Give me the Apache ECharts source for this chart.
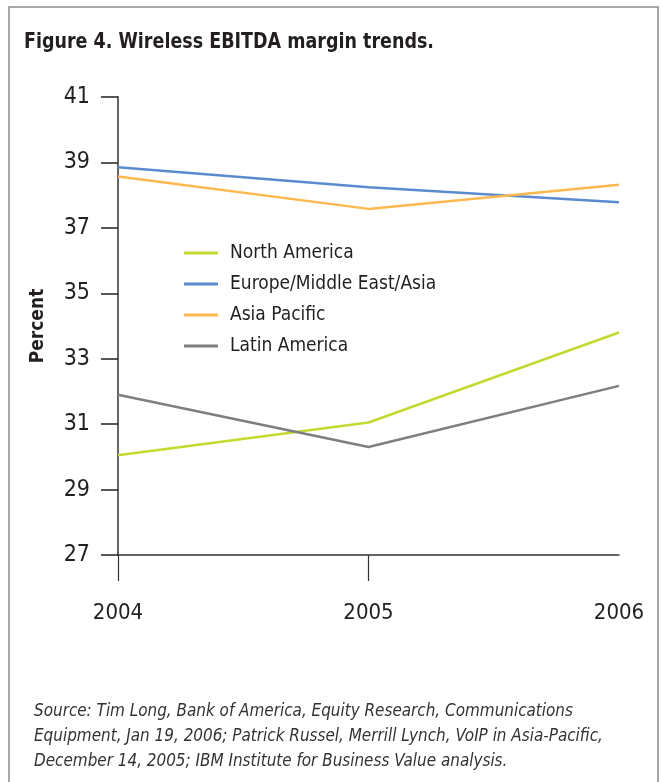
<!DOCTYPE html>
<html>
<head>
<meta charset="utf-8">
<script src="https://cdn.jsdelivr.net/npm/echarts@6/dist/echarts.min.js"></script>
<style>
html,body{margin:0;padding:0;background:#fff;}
#c{width:661px;height:782px;}
</style>
</head>
<body>
<div id="c"></div>
<script>
var years = ['2004', '2005', '2006'];
var northAmerica = [30.05, 31.05, 33.8];
var europeMEA = [38.85, 38.24, 37.78];
var asiaPacific = [38.57, 37.58, 38.32];
var latinAmerica = [31.9, 30.3, 32.17];
var seriesNames = ['North America', 'Europe/Middle East/Asia', 'Asia Pacific', 'Latin America'];
var titleText = 'Figure 4. Wireless EBITDA margin trends.';
var sourceLines = [
  'Source: Tim Long, Bank of America, Equity Research, Communications',
  'Equipment, Jan 19, 2006; Patrick Russel, Merrill Lynch, VoIP in Asia-Pacific,',
  'December 14, 2005; IBM Institute for Business Value analysis.'
];

var narrow = '"Liberation Sans Narrow", "DejaVu Sans Condensed", "Roboto Condensed", Arial, sans-serif';
var colors = ['#C4D92E', '#5B8BCF', '#FDB94F', '#7F7F7F'];
var dataSets = [northAmerica, europeMEA, asiaPacific, latinAmerica];

var chart = echarts.init(document.getElementById('c'), null, {renderer: 'canvas'});
var series = seriesNames.map(function (n, i) {
  return {
    name: n,
    type: 'line',
    data: dataSets[i],
    symbol: 'none',
    lineStyle: {color: colors[i], width: 2.5},
    itemStyle: {color: colors[i]},
    z: 3
  };
});

var graphics = [
  {type: 'rect', shape: {x: 9, y: 7, width: 649, height: 800}, style: {fill: 'none', stroke: '#8c8c8c', lineWidth: 1.5}, silent: true},
  {type: 'text', x: 24, y: 42, scaleX: 0.885, style: {text: titleText, font: 'bold 22px ' + narrow, fill: '#231f20', verticalAlign: 'middle'}}
];
sourceLines.forEach(function (t, i) {
  graphics.push({type: 'text', x: 34, y: 711 + i * 25, scaleX: 0.94, style: {text: t, font: 'italic 18px ' + narrow, fill: '#333', verticalAlign: 'middle'}});
});

chart.setOption({
  animation: false,
  backgroundColor: '#fff',
  color: colors,
  graphic: graphics,
  grid: {left: 118, right: 42, top: 97, bottom: 227, containLabel: false},
  legend: {
    orient: 'vertical',
    left: 179,
    top: 238,
    icon: 'rect',
    itemWidth: 34,
    itemHeight: 3,
    itemGap: 11,
    data: seriesNames,
    textStyle: {fontFamily: narrow, fontSize: 19, color: '#231f20', lineHeight: 20, padding: [0, 0, 0, 7]}
  },
  xAxis: {
    type: 'category',
    data: years,
    boundaryGap: false,
    axisLine: {lineStyle: {color: '#333', width: 1.5}},
    axisTick: {show: true, length: 26, interval: function (idx) { return idx < 2; }, lineStyle: {color: '#333', width: 1.2}},
    axisLabel: {margin: 47, fontFamily: narrow, fontSize: 22, color: '#231f20'},
    splitLine: {show: false}
  },
  yAxis: {
    type: 'value',
    min: 27,
    max: 41,
    interval: 2,
    name: 'Percent',
    nameLocation: 'middle',
    nameGap: 70,
    nameRotate: 90,
    nameTextStyle: {fontFamily: narrow, fontSize: 19, fontWeight: 'bold', color: '#231f20'},
    axisLine: {show: true, lineStyle: {color: '#666', width: 2}},
    axisTick: {show: true, length: 17, lineStyle: {color: '#222', width: 1.5}},
    axisLabel: {margin: 28, fontFamily: narrow, fontSize: 23, color: '#231f20'},
    splitLine: {show: false}
  },
  series: series
});
</script>
</body>
</html>
